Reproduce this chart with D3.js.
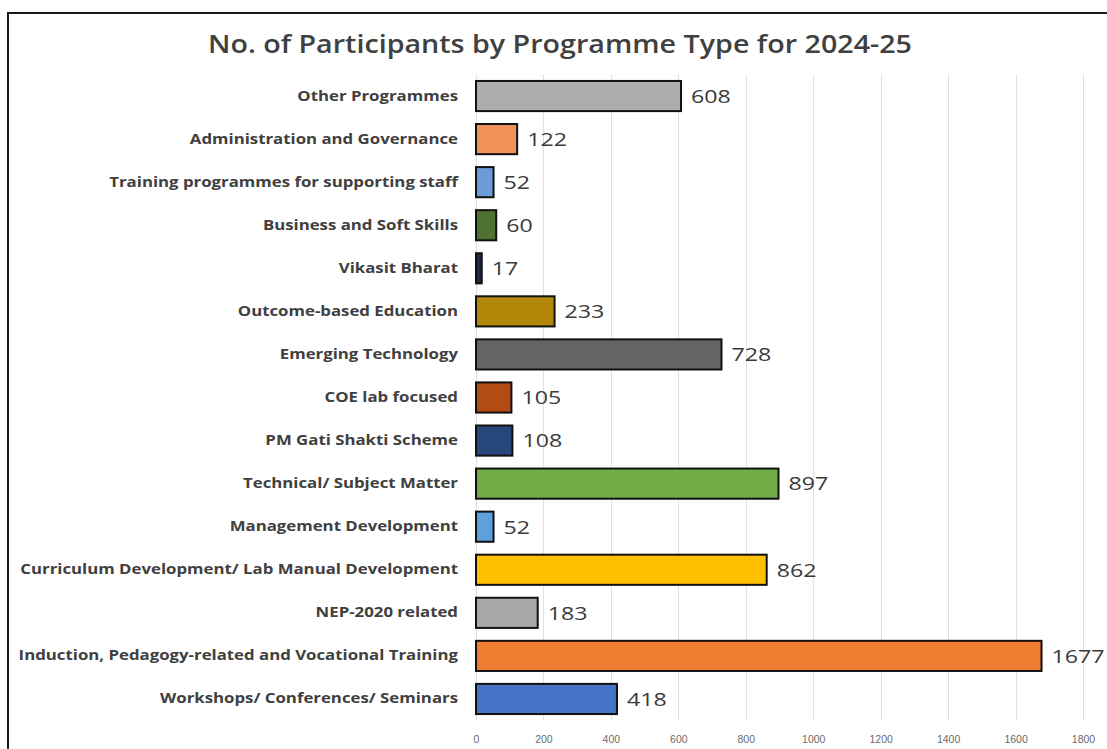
<!DOCTYPE html>
<html>
<head>
<meta charset="utf-8">
<script src="https://cdn.jsdelivr.net/npm/d3@7"></script>
<style>
  html, body { margin: 0; padding: 0; background: #ffffff; }
  svg { display: block; }
</style>
</head>
<body>
<svg id="chart" width="1107" height="749"></svg>
<script>
// Programme types, listed top to bottom
const categories = [
  "Other Programmes",
  "Administration and Governance",
  "Training programmes for supporting staff",
  "Business and Soft Skills",
  "Vikasit Bharat",
  "Outcome-based Education",
  "Emerging Technology",
  "COE lab focused",
  "PM Gati Shakti Scheme",
  "Technical/ Subject Matter",
  "Management Development",
  "Curriculum Development/ Lab Manual Development",
  "NEP-2020 related",
  "Induction, Pedagogy-related and Vocational Training",
  "Workshops/ Conferences/ Seminars"
];

// Number of participants per programme type
const participants = [608, 122, 52, 60, 17, 233, 728, 105, 108, 897, 52, 862, 183, 1677, 418];

// Bar fill per programme type
const barColors = [
  "#adadad", "#f0925a", "#6d9ad8", "#4f7233", "#1f2c4c",
  "#b3880a", "#646464", "#b24c14", "#27477c", "#71ad47",
  "#5da0dc", "#ffc000", "#a9a9a9", "#ee7d32", "#4673c5"
];

const xTicks = [0, 200, 400, 600, 800, 1000, 1200, 1400, 1600, 1800];

const title = "No. of Participants by Programme Type for 2024-25";

const svg = d3.select("#chart");

// Outer frame (top and left edges)
svg.append("path")
  .attr("d", "M8,749 L8,13 L1107,13")
  .attr("fill", "none")
  .attr("stroke", "#1a1a1a")
  .attr("stroke-width", 2);

const plot = { left: 476, right: 1083, top: 74.5, bottom: 720.5 };

const x = d3.scaleLinear().domain([0, 1800]).range([plot.left, plot.right]);
const y = d3.scaleBand()
  .domain(categories)
  .range([plot.top, plot.bottom])
  .paddingInner(0.3)
  .paddingOuter(0.15);

// Vertical gridlines
svg.append("g")
  .selectAll("line")
  .data(xTicks)
  .join("line")
  .attr("x1", d => Math.round(x(d)) + 0.5)
  .attr("x2", d => Math.round(x(d)) + 0.5)
  .attr("y1", plot.top)
  .attr("y2", plot.bottom)
  .attr("stroke", "#e0e0e0")
  .attr("stroke-width", 1);

// Bottom axis with tick labels only
const xAxis = svg.append("g")
  .attr("transform", `translate(0,${plot.bottom})`)
  .call(d3.axisBottom(x).tickValues(xTicks).tickSize(0).tickPadding(15).tickFormat(d3.format("d")));
xAxis.select(".domain").remove();
xAxis.selectAll("text")
  .attr("font-family", "'Liberation Sans', Arial, sans-serif")
  .attr("font-size", 10.5)
  .attr("fill", "#6b6b6b");

// Category labels, set in a horizontally widened face
const yAxis = svg.append("g")
  .attr("transform", `translate(${plot.left},0)`)
  .call(d3.axisLeft(y).tickSize(0).tickPadding(18));
yAxis.select(".domain").remove();
yAxis.selectAll("text")
  .attr("x", 0)
  .attr("transform", "translate(-18,0) scale(1.2,1)")
  .attr("font-family", "'Open Sans', 'Noto Sans', sans-serif")
  .attr("font-weight", 700)
  .attr("font-size", 14)
  .attr("fill", "#404040");

// Bars
svg.append("g")
  .selectAll("rect")
  .data(categories)
  .join("rect")
  .attr("x", x(0))
  .attr("y", d => y(d))
  .attr("width", (d, i) => x(participants[i]) - x(0))
  .attr("height", y.bandwidth())
  .attr("fill", (d, i) => barColors[i])
  .attr("stroke", "#111111")
  .attr("stroke-width", 2);

// Value labels
svg.append("g")
  .selectAll("text")
  .data(categories)
  .join("text")
  .attr("transform", (d, i) =>
    `translate(${x(participants[i]) + 10},${y(d) + y.bandwidth() / 2}) scale(1.22,1)`)
  .attr("dy", "0.36em")
  .attr("font-family", "'Open Sans', 'Noto Sans', sans-serif")
  .attr("font-size", 19)
  .attr("fill", "#3a3a3a")
  .text((d, i) => participants[i]);

// Title
svg.append("text")
  .attr("x", 560)
  .attr("y", 53)
  .attr("text-anchor", "middle")
  .attr("font-family", "'Open Sans', 'Noto Sans', sans-serif")
  .attr("font-weight", 600)
  .attr("font-size", 25)
  .attr("fill", "#404040")
  .attr("textLength", 704)
  .attr("lengthAdjust", "spacingAndGlyphs")
  .text(title);
</script>
</body>
</html>
